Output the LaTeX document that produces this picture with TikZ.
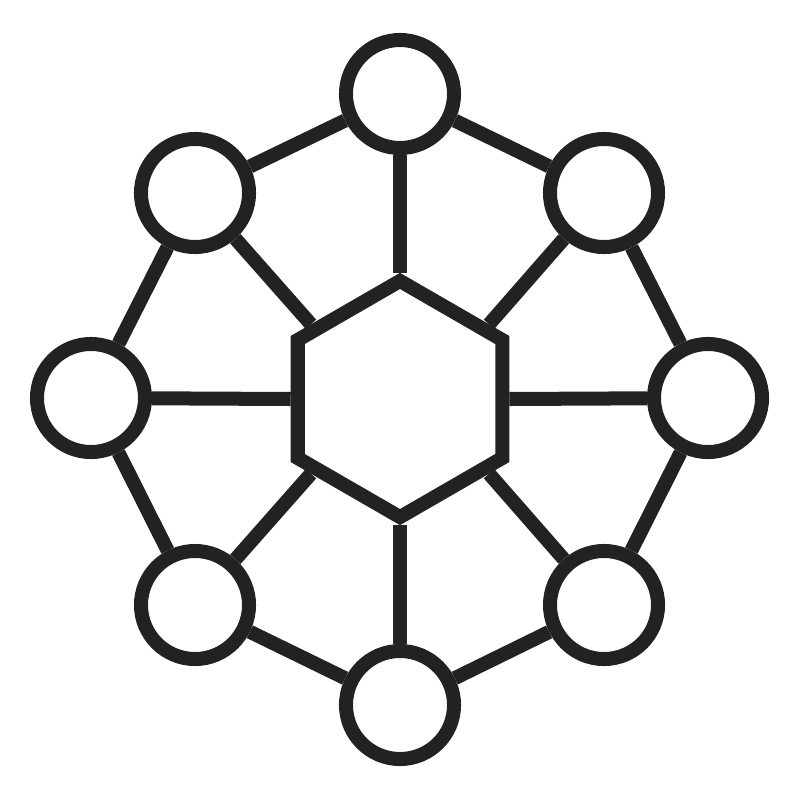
\documentclass[tikz,border=0pt]{standalone}
\usetikzlibrary{shapes.geometric}
\definecolor{ink}{HTML}{222222}
\begin{document}
\begin{tikzpicture}[x=0.01cm,y=-0.01cm,
  ring/.style={circle,draw=ink,line width=0.14cm,minimum size=1.08cm,inner sep=0pt,fill=white},
  hexbox/.style={regular polygon,regular polygon sides=6,shape border rotate=30,draw=ink,line width=0.14cm,minimum size=2.36cm,inner sep=0pt,fill=white},
  link/.style={draw=ink,line width=0.14cm}]
\useasboundingbox (0,0) rectangle (800,800);
\node[hexbox] (hex) at (400,399) {};
\node[ring] (t) at (400,94) {};
\node[ring] (tr) at (604,193) {};
\node[ring] (r) at (708,398) {};
\node[ring] (br) at (604,605) {};
\node[ring] (b) at (400,705) {};
\node[ring] (bl) at (195,605) {};
\node[ring] (l) at (91,398) {};
\node[ring] (tl) at (195,193) {};
\draw[link] (t) -- (tr) -- (r) -- (br) -- (b) -- (bl) -- (l) -- (tl) -- (t);
\draw[link] (t) -- (hex.90);
\draw[link] (b) -- (hex.270);
\draw[link] (l) -- (hex.180);
\draw[link] (r) -- (hex.0);
\draw[link] (tl) -- (hex.140);
\draw[link] (tr) -- (hex.40);
\draw[link] (bl) -- (hex.220);
\draw[link] (br) -- (hex.320);
\end{tikzpicture}
\end{document}
